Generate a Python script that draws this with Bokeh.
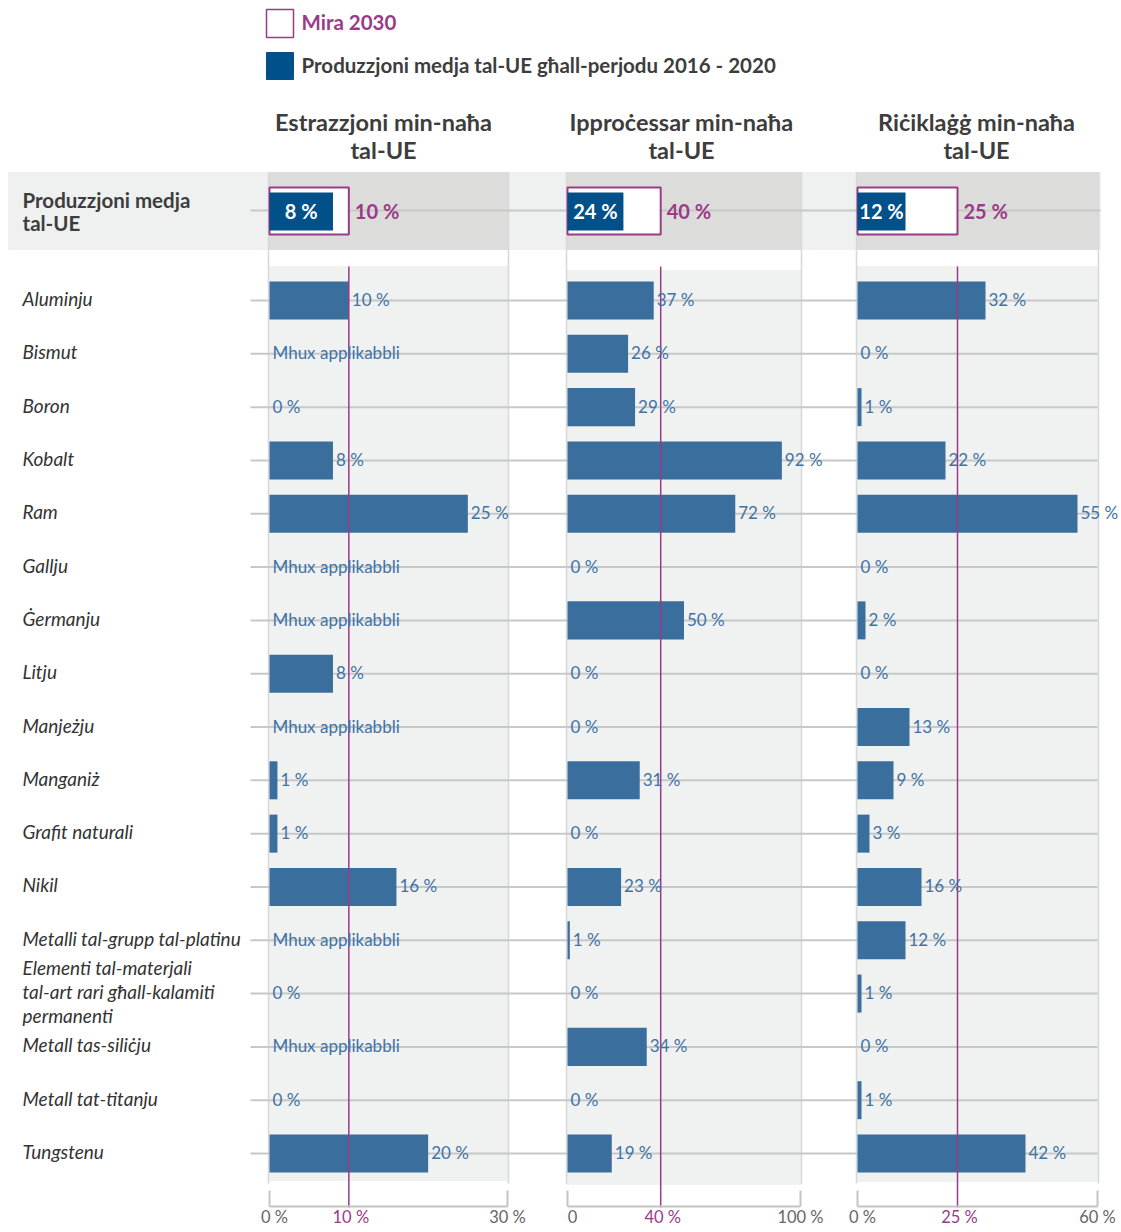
from bokeh.plotting import figure
from bokeh.models import Range1d
from bokeh.core.properties import value
from bokeh.embed import file_html
from bokeh.resources import INLINE

# ---------------- data ----------------
materials = ["Aluminju", "Bismut", "Boron", "Kobalt", "Ram", "Gallju", "Ġermanju",
             "Litju", "Manjeżju", "Manganiż", "Grafit naturali", "Nikil",
             "Metalli tal-grupp tal-platinu",
             "Elementi tal-materjali\ntal-art rari għall-kalamiti\npermanenti",
             "Metall tas-siliċju", "Metall tat-titanju", "Tungstenu"]
extraction = [10, None, 0, 8, 25, None, None, 8, None, 1, 1, 16, None, 0, None, 0, 20]
processing = [37, 26, 29, 92, 72, 0, 50, 0, 0, 31, 0, 23, 1, 0, 34, 0, 19]
recycling = [32, 0, 1, 22, 55, 0, 2, 0, 13, 9, 3, 16, 12, 1, 0, 1, 42]
series = [extraction, processing, recycling]

panel_titles = [["Estrazzjoni min-naħa", "tal-UE"],
                ["Ipproċessar min-naħa", "tal-UE"],
                ["Riċiklaġġ min-naħa", "tal-UE"]]
eu_average = [8, 24, 12]
targets_2030 = [10, 40, 25]
axis_max = [30, 100, 60]
tick_labels = [["0 %", "10 %", "30 %"], ["0", "40 %", "100 %"], ["0 %", "25 %", "60 %"]]
na_text = "Mhux applikabbli"
summary_label = ["Produzzjoni medja", "tal-UE"]
legend_labels = ["Mira 2030", "Produzzjoni medja tal-UE għall-perjodu 2016 - 2020"]

# ---------------- style / layout ----------------
W, H = 1121, 1228
OX, OY = 0, 0
BAR = "#3a6e9c"
DARK = "#00508a"
PURPLE = "#9a3b87"
VAL = "#3e73a6"
TXT = "#3d3d3d"
PANEL_BG = "#f0f1f1"
BAND_OUT = "#eff0f0"
BAND_IN = "#dcdcdb"
GRID = "#c8c8c8"
FONT = value("Lato")

px0 = [269, 567, 857]
px1 = [507, 800, 1097]
title_cx = [383, 681, 976]
row0_y, rowN_y = 300, 1153

p = figure(width=W, height=H, x_range=Range1d(OX, OX + W), y_range=Range1d(OY + H, OY),
           output_backend="svg", toolbar_location=None, x_axis_type=None, y_axis_type=None,
           min_border=0, outline_line_color=None, background_fill_color="white")

n = len(materials)
rows = list(range(n))
rk = (rowN_y - row0_y) / (n - 1)
p.extra_y_ranges = {"rows": Range1d(start=(OY + H - row0_y) / rk, end=(OY - row0_y) / rk)}

names = []
for i in range(3):
    k = (px1[i] - px0[i]) / axis_max[i]
    s = -(px0[i] - OX) / k
    name = f"panel{i}"
    p.extra_x_ranges[name] = Range1d(start=s, end=s + W / k)
    names.append(name)

# summary band
p.quad(left=[8], right=[1100], top=[172], bottom=[249], color=BAND_OUT)
p.quad(left=[a - 1 for a in px0], right=[b + 1 for b in px1], top=172, bottom=249, color=BAND_IN)
# panel backgrounds
p.quad(left=[a - 1 for a in px0], right=[b + 1 for b in px1], top=[266, 270, 266],
       bottom=[1180, 1184, 1181], color=PANEL_BG)
# panel borders
xs = [a - 1 for a in px0] + [b + 1 for b in px1]
p.segment(x0=xs, x1=xs, y0=172, y1=1183, line_color="#d8d8d8", line_width=1.5)

# gridlines
p.segment(x0=250, x1=1097, y0=rows, y1=rows, y_range_name="rows", line_color=GRID, line_width=2)
p.segment(x0=[250], x1=[1100], y0=[210], y1=[210], line_color=GRID, line_width=2)

for i, name in enumerate(names):
    vals = series[i]
    right = [v if v is not None else 0 for v in vals]
    p.hbar(y=rows, left=0, right=right, height=0.713, fill_color=BAR, line_color=None,
           x_range_name=name, y_range_name="rows")
    # target line
    p.segment(x0=[targets_2030[i]], x1=[targets_2030[i]], y0=[266], y1=[1207],
              line_color=PURPLE, line_width=1.5, x_range_name=name)
    # value labels
    labels = [f"{v} %" if v is not None else na_text for v in vals]
    p.text(x=right, y=rows, text=labels, x_offset=3, y_offset=-1, text_baseline="middle",
           text_font=FONT, text_font_size="17px", text_color=VAL,
           x_range_name=name, y_range_name="rows")
    # summary row
    p.quad(left=[0], right=[targets_2030[i]], top=[187], bottom=[234], fill_color="white",
           line_color=PURPLE, line_width=2, x_range_name=name)
    p.quad(left=[0], right=[eu_average[i]], top=[192], bottom=[230], fill_color=DARK,
           line_color=None, x_range_name=name)
    p.text(x=[eu_average[i] / 2], y=[210], text=[f"{eu_average[i]} %"], text_align="center",
           text_baseline="middle", text_font=FONT, text_font_style="bold",
           text_font_size="20px", text_color="white", x_range_name=name)
    p.text(x=[targets_2030[i]], y=[210], text=[f"{targets_2030[i]} %"], x_offset=6,
           text_baseline="middle", text_font=FONT, text_font_style="bold",
           text_font_size="20px", text_color=PURPLE, x_range_name=name)
    # axis
    M = axis_max[i]
    p.segment(x0=[0], x1=[M], y0=[1206], y1=[1206], line_color="#c4c4c4", line_width=2,
              x_range_name=name)
    p.segment(x0=[0, M], x1=[0, M], y0=1190, y1=1206, line_color="#c4c4c4", line_width=2,
              x_range_name=name)
    p.text(x=[0, targets_2030[i], M], y=1216, text=tick_labels[i], text_align="center",
           text_baseline="middle", text_font=FONT, text_font_size="16.5px",
           text_color=["#666666", PURPLE, "#666666"], x_offset=[5, 2, 0], x_range_name=name)
    # titles
    cx = title_cx[i]
    p.text(x=[cx, cx], y=[121, 149], text=panel_titles[i], text_align="center",
           text_baseline="middle", text_font=FONT, text_font_style="bold",
           text_font_size="23.5px", text_color=TXT)

# category labels
p.text(x=22, y=rows, text=materials, text_baseline="middle", text_font=FONT,
       text_font_style="italic", text_font_size="19px", text_color="#333333",
       text_line_height=1.05, y_offset=-2, y_range_name="rows")

# summary label
p.text(x=[22, 22], y=[199, 222], text=summary_label, text_baseline="middle", text_font=FONT,
       text_font_style="bold", text_font_size="20.5px", text_color=TXT)

# legend
p.quad(left=[266], right=[293], top=[9], bottom=[37], fill_color="white",
       line_color=PURPLE, line_width=1.5)
p.quad(left=[266], right=[293], top=[52], bottom=[79], color=DARK)
p.text(x=[301, 301], y=[21, 64], text=legend_labels, text_baseline="middle", text_font=FONT,
       text_font_style="bold", text_font_size="20.5px", text_color=[PURPLE, TXT])

open("out.html", "w").write(file_html(p, INLINE))
